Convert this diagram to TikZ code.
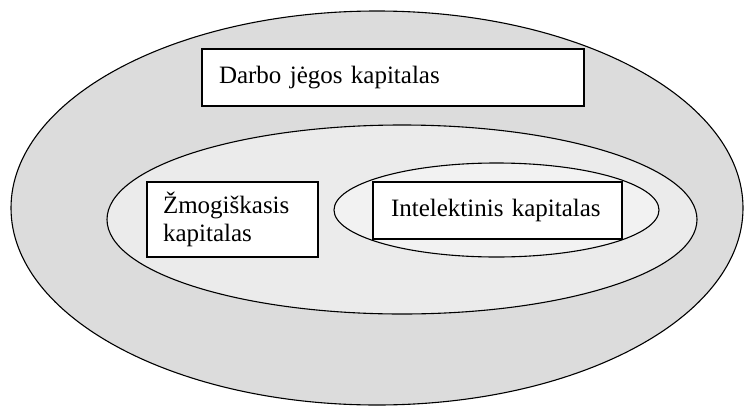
\documentclass[tikz,border=0pt]{standalone}
\usepackage{fontspec}
\setmainfont{Liberation Serif}
\definecolor{outerfill}{RGB}{220,220,220}
\definecolor{midfill}{RGB}{235,235,235}
\definecolor{innerfill}{RGB}{242,242,242}
\tikzset{
  ring/.style={draw=black, line width=1.1pt},
  labelbox/.style={draw=black, fill=white, line width=1.6pt, rectangle, inner sep=0pt,
    align=left, font=\fontsize{25}{27.5}\selectfont},
}
\begin{document}
\begin{tikzpicture}[x=1pt,y=-1pt]
\useasboundingbox (0,0) rectangle (744,407);
\fill[white] (0,0) rectangle (744,407);
% outer ellipse
\draw[ring, fill=outerfill] (377,208) ellipse [x radius=366, y radius=197];
\node[labelbox, minimum width=382pt, minimum height=57pt, text width=348pt] (darbo) at (393,77.5) {Darbo jėgos kapitalas};
% middle ellipse
\draw[ring, fill=midfill] (402,219.5) ellipse [x radius=295, y radius=94.5];
\node[labelbox, minimum width=171pt, minimum height=75pt, text width=139pt] (zmog) at (232.5,219.5) {Žmogiškasis\\kapitalas};
% inner ellipse
\draw[ring, fill=innerfill] (496.5,210) ellipse [x radius=162.5, y radius=47];
\node[labelbox, minimum width=249pt, minimum height=57pt, text width=213pt] (intel) at (497.5,210.5) {Intelektinis kapitalas};
\end{tikzpicture}
\end{document}
